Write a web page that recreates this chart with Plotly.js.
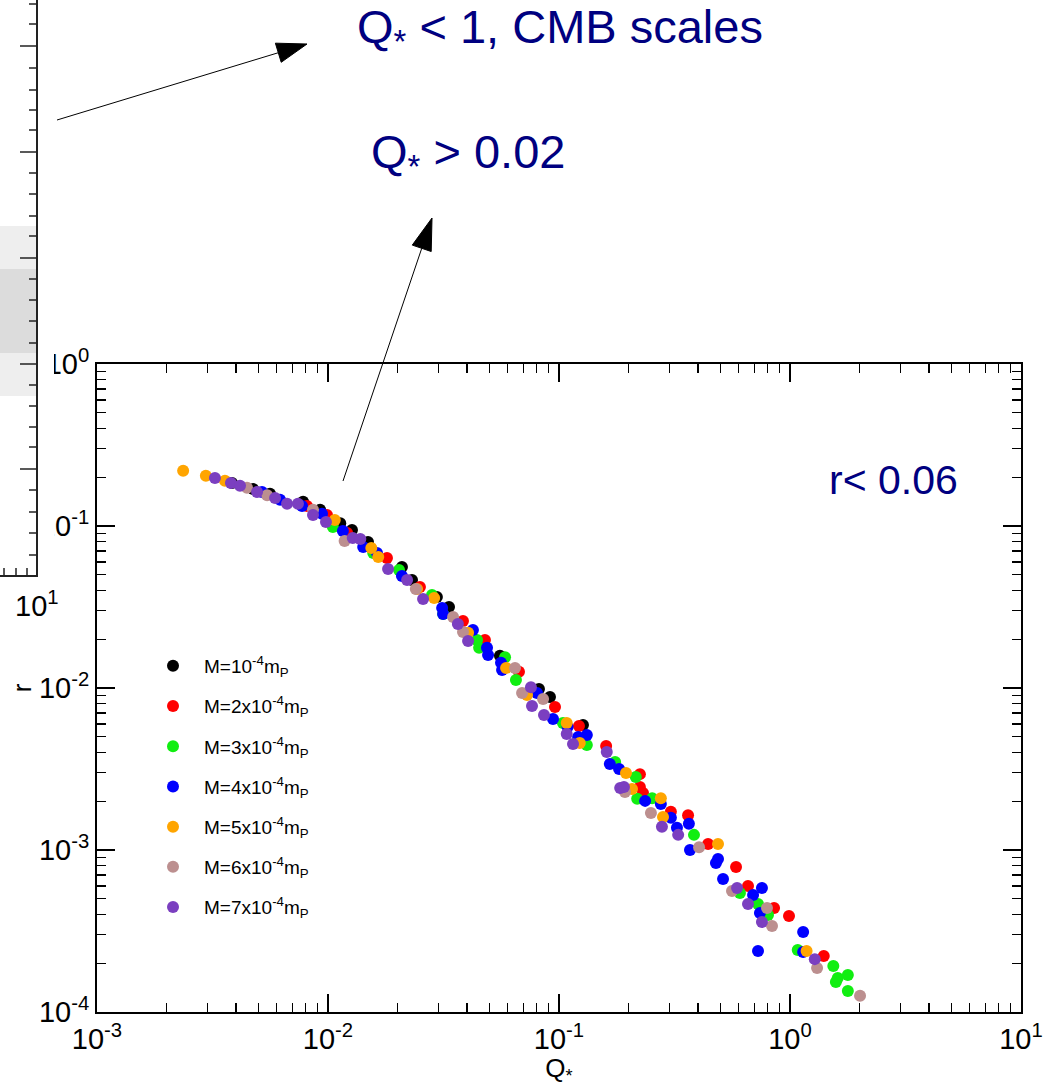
<!DOCTYPE html>
<html><head><meta charset="utf-8">
<script src="https://cdn.plot.ly/plotly-3.0.1.min.js"></script>
<style>html,body{margin:0;padding:0;background:#fff;}#chart{width:1052px;height:1086px;}</style>
</head><body><div id="chart"></div>
<script>
// ---------------- data ----------------
const seriesNames = [
  'M=10<sup>-4</sup>m<sub>P</sub>',
  'M=2x10<sup>-4</sup>m<sub>P</sub>',
  'M=3x10<sup>-4</sup>m<sub>P</sub>',
  'M=4x10<sup>-4</sup>m<sub>P</sub>',
  'M=5x10<sup>-4</sup>m<sub>P</sub>',
  'M=6x10<sup>-4</sup>m<sub>P</sub>',
  'M=7x10<sup>-4</sup>m<sub>P</sub>'
];
const seriesColors = ['#000000','#ff0000','#11ee11','#0000ff','#ffa500','#bc8f8f','#7b3fc0'];

const qBlack = [0.00384,0.00474,0.00561,0.00780,0.00924,0.0113,0.0127,0.0149,0.0209,0.0231,0.0296,0.0334,0.0555,0.0819,0.0914,0.127];
const rBlack = [0.184,0.169,0.158,0.141,0.126,0.104,0.0945,0.0796,0.0558,0.0464,0.0365,0.0316,0.0158,0.00986,0.00880,0.00591];

const qRed = [0.00811,0.00990,0.0121,0.0180,0.0250,0.0384,0.0478,0.0671,0.0961,0.122,0.160,0.224,0.224,0.231,0.305,0.362,0.442,0.584,0.658,0.853,0.990,1.40];
const rRed = [0.133,0.117,0.0905,0.0635,0.0420,0.0259,0.0198,0.0126,0.00763,0.00583,0.00439,0.00294,0.00245,0.00225,0.00172,0.00164,0.00109,0.000786,0.000599,0.000439,0.000391,0.000222];

const qGreen = [0.0105,0.0157,0.0203,0.0282,0.0315,0.0442,0.0451,0.0584,0.0651,0.104,0.132,0.175,0.215,0.218,0.253,0.384,0.607,0.727,0.803,1.08,1.54,1.78,1.61,1.58,1.78];
const rGreen = [0.0986,0.0681,0.0535,0.0375,0.0286,0.0198,0.0177,0.0155,0.0112,0.00608,0.00445,0.00349,0.00282,0.00207,0.00209,0.00124,0.000543,0.000464,0.000397,0.000241,0.000192,0.000169,0.000162,0.000153,0.000135];

const qBlue = [0.00518,0.00620,0.00772,0.00942,0.0116,0.0142,0.0163,0.0209,0.0312,0.0315,0.0424,0.0488,0.0493,0.0561,0.0567,0.0803,0.0942,0.109,0.121,0.132,0.166,0.182,0.236,0.276,0.305,0.324,0.365,0.369,0.488,0.478,0.513,0.692,0.756,0.741,1.14,0.727,1.14];
const rBlue = [0.162,0.145,0.133,0.119,0.0931,0.0742,0.0681,0.0491,0.0312,0.0286,0.0228,0.0177,0.0160,0.0143,0.0129,0.00931,0.00644,0.00574,0.00498,0.00513,0.00340,0.00316,0.00201,0.00192,0.00158,0.00137,0.00145,0.00100,0.000880,0.000832,0.000662,0.000528,0.000583,0.000408,0.000312,0.000238,0.000235];

const qOrange = [0.00236,0.00296,0.00358,0.0107,0.0154,0.0165,0.0243,0.0288,0.0404,0.0590,0.0727,0.108,0.123,0.195,0.207,0.276,0.282,0.488,1.18];
const rOrange = [0.219,0.204,0.190,0.109,0.0731,0.0644,0.0408,0.0359,0.0219,0.0133,0.00905,0.00608,0.00458,0.00299,0.00238,0.00209,0.00160,0.00109,0.000238];

const qBrown = [0.00446,0.00545,0.00861,0.0118,0.0240,0.0348,0.0384,0.0645,0.0692,0.0853,0.193,0.250,0.404,0.561,0.795,0.836,1.31,2.01];
const rBrown = [0.172,0.155,0.126,0.0808,0.0408,0.0274,0.0222,0.0133,0.00931,0.00855,0.00228,0.00169,0.00104,0.000558,0.000439,0.000340,0.000187,0.000126];

const qPurple = [0.00324,0.00380,0.00416,0.00493,0.00590,0.00665,0.00741,0.00861,0.00980,0.0128,0.0138,0.0182,0.0220,0.0258,0.0365,0.0404,0.0756,0.0764,0.0861,0.108,0.115,0.161,0.184,0.191,0.279,0.328,0.590,0.658,0.756,1.28];
const rPurple = [0.198,0.184,0.177,0.162,0.149,0.137,0.137,0.117,0.106,0.0843,0.0832,0.0543,0.0464,0.0354,0.0248,0.0195,0.0101,0.00774,0.00681,0.00520,0.00451,0.00403,0.00241,0.00245,0.00139,0.00124,0.000583,0.000464,0.000359,0.000212];

const xTickVals = [0.001,0.01,0.1,1,10];
const xTickText = ['10<sup>-3</sup>','10<sup>-2</sup>','10<sup>-1</sup>','10<sup>0</sup>','10<sup>1</sup>'];
const yTickVals = [0.0001,0.001,0.01,0.1,1];
const yTickText = ['10<sup>-4</sup>','10<sup>-3</sup>','10<sup>-2</sup>','10<sup>-1</sup>','10<sup>0</sup>'];
const bandEdgeR = 0.07;   // lower edge of the shaded r region
const bandLabel = 'r&lt; 0.06';
const noteTop = 'Q<sub>*</sub> &lt; 1, CMB scales';
const noteMid = 'Q<sub>*</sub> &gt; 0.02';
const xTitle = 'Q<sub>*</sub>';
const yTitle = 'r';

// ---------------- layout helpers ----------------
const W = 1052, H = 1086, PL = 97, PR = 1021, PT = 364, PB = 1012;
const px2x = p => (p - PL) / (PR - PL);
const px2y = p => (PB - p) / (PB - PT);
const FONT = 'Liberation Sans, Arial, sans-serif';
const TICKFONT = 'Liberation Sans Narrow, Liberation Sans, Arial, sans-serif';
const NAVY = '#000080';

function minorVals(lo, hi) {
  const out = [];
  for (let e = lo; e < hi; e++) for (let m = 2; m <= 9; m++) out.push(m * Math.pow(10, e));
  return out;
}

const qs = [qBlack,qRed,qGreen,qBlue,qOrange,qBrown,qPurple];
const rs = [rBlack,rRed,rGreen,rBlue,rOrange,rBrown,rPurple];
const traces = qs.map((q, i) => ({
  type: 'scatter', mode: 'markers', x: q, y: rs[i], name: seriesNames[i],
  legendgroup: 'g' + i,
  marker: {color: seriesColors[i], size: 12, line: {width: 0}}
}));

const shapes = [];
const annotations = [];
// shaded region r > bandEdgeR
shapes.push({type:'rect', xref:'paper', yref:'y', x0:0, x1:1, y0:Math.log10(bandEdgeR), y1:0,
  fillcolor:'#e6e6e6', line:{width:0}, layer:'below'});

// arrows
function arrow(tail, tip, len, half) {
  const dx = tip[0]-tail[0], dy = tip[1]-tail[1], d = Math.hypot(dx, dy);
  const ux = dx/d, uy = dy/d;
  const bx = tip[0]-ux*len, by = tip[1]-uy*len;
  shapes.push({type:'line', xref:'paper', yref:'paper', x0:px2x(tail[0]), y0:px2y(tail[1]),
    x1:px2x(bx), y1:px2y(by), line:{color:'#000', width:1}, layer:'above'});
  const p1 = [bx - uy*half, by + ux*half], p2 = [bx + uy*half, by - ux*half];
  shapes.push({type:'path', xref:'paper', yref:'paper',
    path:`M${px2x(tip[0])},${px2y(tip[1])} L${px2x(p1[0])},${px2y(p1[1])} L${px2x(p2[0])},${px2y(p2[1])} Z`,
    fillcolor:'#000', line:{color:'#000', width:1}, layer:'above'});
}

// neighbouring panel fragment on the left
shapes.push({type:'rect', xref:'paper', yref:'paper', x0:px2x(-5), x1:px2x(54), y0:px2y(590), y1:px2y(-5),
  fillcolor:'#fff', line:{width:0}, layer:'above'});
shapes.push({type:'rect', xref:'paper', yref:'paper', x0:px2x(-5), x1:px2x(37), y0:px2y(396), y1:px2y(226),
  fillcolor:'#eeeeee', line:{width:0}, layer:'above'});
shapes.push({type:'rect', xref:'paper', yref:'paper', x0:px2x(-5), x1:px2x(37), y0:px2y(353), y1:px2y(269),
  fillcolor:'#dcdcdc', line:{width:0}, layer:'above'});
shapes.push({type:'line', xref:'paper', yref:'paper', x0:px2x(37), x1:px2x(37), y0:px2y(-5), y1:px2y(577),
  line:{color:'#222', width:2}, layer:'above'});
shapes.push({type:'line', xref:'paper', yref:'paper', x0:px2x(-5), x1:px2x(37), y0:px2y(576), y1:px2y(576),
  line:{color:'#222', width:2}, layer:'above'});
const fragMajor = [46,152,258,364,469];
const fragMinor = [4,24,68,90,110,130,173,194,216,236,279,300,321,343,385,406,427,447,490,512,533,555];
fragMajor.forEach(y => shapes.push({type:'line', xref:'paper', yref:'paper', x0:px2x(20), x1:px2x(37), y0:px2y(y), y1:px2y(y), line:{color:'#222', width:1.5}, layer:'above'}));
fragMinor.forEach(y => shapes.push({type:'line', xref:'paper', yref:'paper', x0:px2x(29), x1:px2x(37), y0:px2y(y), y1:px2y(y), line:{color:'#222', width:1.5}, layer:'above'}));
[4,16,27].forEach(x => shapes.push({type:'line', xref:'paper', yref:'paper', x0:px2x(x), x1:px2x(x), y0:px2y(576), y1:px2y(568), line:{color:'#222', width:1.5}, layer:'above'}));
annotations.push({xref:'paper', yref:'paper', x:px2x(37), y:px2y(604), text:'10<sup>1</sup>', showarrow:false,
  font:{family:TICKFONT, size:29, color:'#000'}, xanchor:'center', yanchor:'middle'});

arrow([57,120],[307,44],30,10);
arrow([343,481],[432,218],32,10);

annotations.push({xref:'paper', yref:'paper', x:px2x(560), y:px2y(30), text:noteTop, showarrow:false,
  font:{family:FONT, size:47, color:NAVY}, xanchor:'center', yanchor:'middle'});
annotations.push({xref:'paper', yref:'paper', x:px2x(468), y:px2y(155), text:noteMid, showarrow:false,
  font:{family:FONT, size:47, color:NAVY}, xanchor:'center', yanchor:'middle'});
annotations.push({xref:'paper', yref:'paper', x:px2x(893), y:px2y(480), text:bandLabel, showarrow:false,
  font:{family:FONT, size:41, color:NAVY}, xanchor:'center', yanchor:'middle'});

const axisCommon = {
  type:'log', tickmode:'array', ticks:'inside', ticklen:18, tickwidth:1.5, tickcolor:'#000',
  showline:true, linewidth:2, linecolor:'#000', mirror:'allticks', showgrid:false, zeroline:false,
  tickfont:{family:TICKFONT, size:29, color:'#000'}
};

const layout = {
  width:W, height:H,
  margin:{l:PL, r:W-PR, t:PT, b:H-PB, pad:0},
  paper_bgcolor:'#ffffff', plot_bgcolor:'#ffffff',
  xaxis: Object.assign({}, axisCommon, {
    range:[-3,1], tickvals:xTickVals, ticktext:xTickText,
    minor:{tickmode:'array', tickvals:minorVals(-3,1), ticks:'inside', ticklen:9, tickwidth:1.2, tickcolor:'#000', showgrid:false},
    title:{text:xTitle, font:{family:TICKFONT, size:26, color:'#000'}, standoff:2}
  }),
  yaxis: Object.assign({}, axisCommon, {
    range:[-4,0], tickvals:yTickVals, ticktext:yTickText,
    minor:{tickmode:'array', tickvals:minorVals(-4,0), ticks:'inside', ticklen:9, tickwidth:1.2, tickcolor:'#000', showgrid:false},
    title:{text:yTitle, font:{family:TICKFONT, size:26, color:'#000'}, standoff:0}
  }),
  showlegend:true,
  legend:{x:px2x(142), y:px2y(647), xanchor:'left', yanchor:'top', bgcolor:'rgba(0,0,0,0)',
    font:{family:FONT, size:19, color:'#000'}, traceorder:'grouped', tracegroupgap:12.5, itemwidth:52},
  shapes:shapes, annotations:annotations
};

Plotly.newPlot('chart', traces, layout, {staticPlot:true, displayModeBar:false});
</script>
</body></html>
